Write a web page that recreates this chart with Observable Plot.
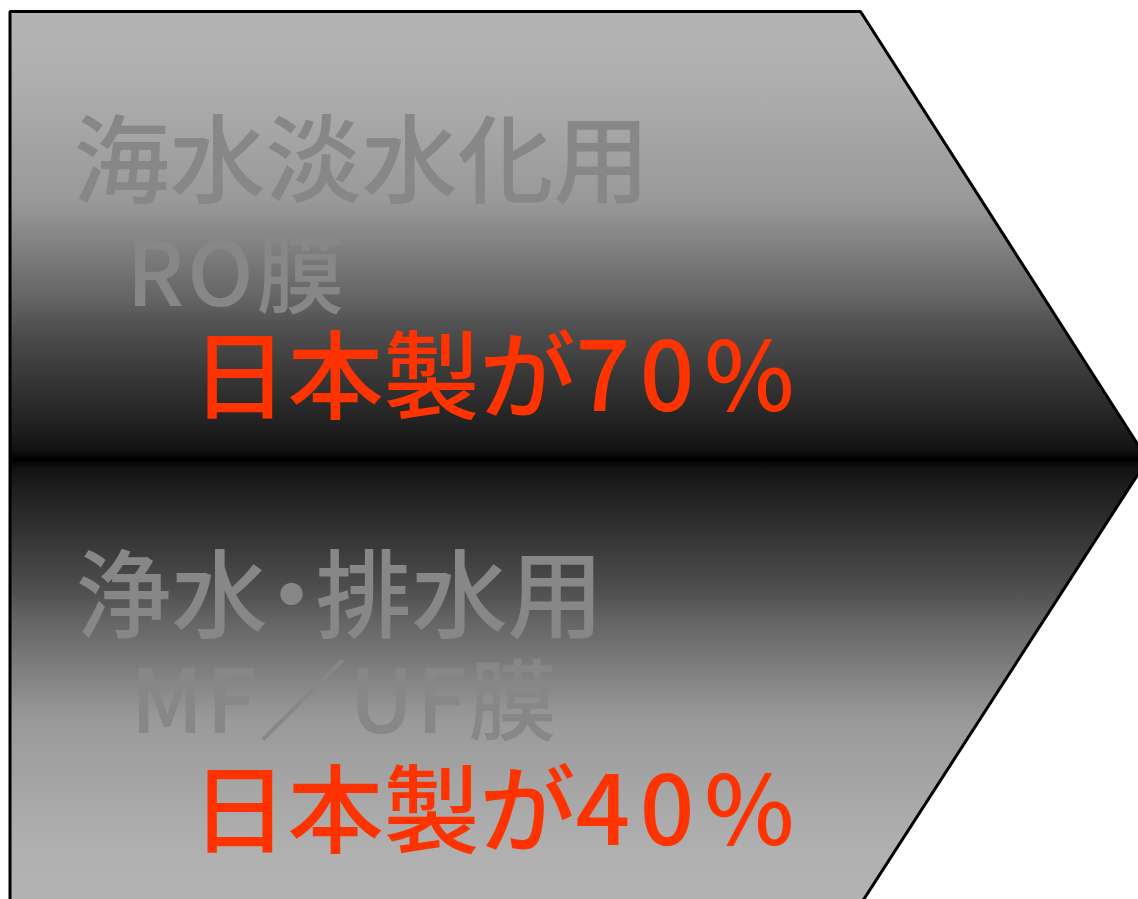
<!DOCTYPE html>
<html>
<head>
<meta charset="utf-8">
<script src="https://cdn.jsdelivr.net/npm/d3@7"></script>
<script src="https://cdn.jsdelivr.net/npm/@observablehq/plot@0.6"></script>
<style>
  html, body { margin: 0; padding: 0; background: #fff; }
  #chart svg { display: block; }
</style>
</head>
<body>
<div id="chart"></div>
<script>
// ---- content ----
const labels = ["海水淡水化用", "RO膜", "日本製が70%", "浄水・排水用", "MF／UF膜", "日本製が40%"];
const labelRole = ["use", "membrane", "share", "use", "membrane", "share"];
const sharePercent = [70, 40]; // 日本製シェア (%)

// ---- layout (pixels in the 1138×899 frame) ----
const arrowX = [9.5, 860, 1147, 858, 9.5];
const arrowY = [11, 11, 459, 907, 907];
const labelX = [73, 126, 191, 75, 130, 191];
const labelBaseline = [194, 305, 410, 629, 732, 844];
const labelSize = [96, 88, 96, 96, 88, 96];
const labelSpacing = [0, 0.035, 0, 0, 0.03, 0];

// ---- styles ----
const roleColor = {use: "#878787", membrane: "#878787", share: "#ff3300"};
const gradStopY = [11, 60, 100, 200, 300, 330, 400, 430, 450, 459];
const gradStopColor = ["#b3b3b3", "#b1b1b1", "#ababab", "#999999", "#636363", "#4e4e4e", "#2c2c2c", "#1e1e1e", "#111111", "#000000"];

const y0 = arrowY[0], y1 = arrowY[3], yc = arrowY[2];
const stops = [];
gradStopY.forEach((y, i) => stops.push({o: (y - y0) / (y1 - y0), c: gradStopColor[i]}));
for (let i = gradStopY.length - 2; i >= 0; i--) {
  const y = 2 * yc - gradStopY[i];
  stops.push({o: (y - y0) / (y1 - y0), c: gradStopColor[i]});
}

const defsMark = () => {
  const defs = d3.create("svg:defs");
  const g = defs.append("linearGradient")
    .attr("id", "arrowGrad")
    .attr("gradientUnits", "userSpaceOnUse")
    .attr("x1", 0).attr("x2", 0).attr("y1", y0).attr("y2", y1);
  stops.forEach(s => g.append("stop").attr("offset", s.o).attr("stop-color", s.c));
  return defs.node();
};

const arrow = arrowX.map((x, i) => ({x, y: arrowY[i]}));
const idx = labels.map((_, i) => i);

const chart = Plot.plot({
  width: 1138,
  height: 899,
  margin: 0,
  x: {domain: [0, 1138], range: [0, 1138], axis: null},
  y: {domain: [0, 899], range: [0, 899], axis: null},
  style: {background: "#ffffff", fontFamily: "'Noto Sans CJK JP', 'Noto Sans', sans-serif"},
  marks: [
    defsMark,
    Plot.line(arrow, {x: "x", y: "y", curve: "linear-closed", fill: "url(#arrowGrad)", stroke: "#000", strokeWidth: 3, strokeLinejoin: "miter"}),
    Plot.text(idx, {
      x: i => labelX[i],
      y: i => labelBaseline[i] - 0.32 * labelSize[i],
      text: i => labels[i],
      fill: i => roleColor[labelRole[i]],
      fontSize: i => labelSize[i],
      textAnchor: "start",
      lineAnchor: "middle",
      fontWeight: 500
    })
  ]
});

d3.select(chart).selectAll("text").each(function () {
  const t = this.textContent;
  const i = labels.indexOf(t);
  const el = d3.select(this);
  if (i >= 0 && labelSpacing[i]) el.attr("letter-spacing", labelSpacing[i] + "em");
  // half-width middle dot: 「・」 set with the font's half-width alternates
  if (t.includes("・")) el.style("font-feature-settings", "'halt'");
  if (/日本製が\d+%/.test(t)) {
    const m = t.match(/^(\D+)(\d+%)$/);
    el.text(m[1]);
    el.append("tspan").attr("letter-spacing", "0.1em").text(m[2]);
  }
});

document.getElementById("chart").append(chart);
</script>
</body>
</html>
